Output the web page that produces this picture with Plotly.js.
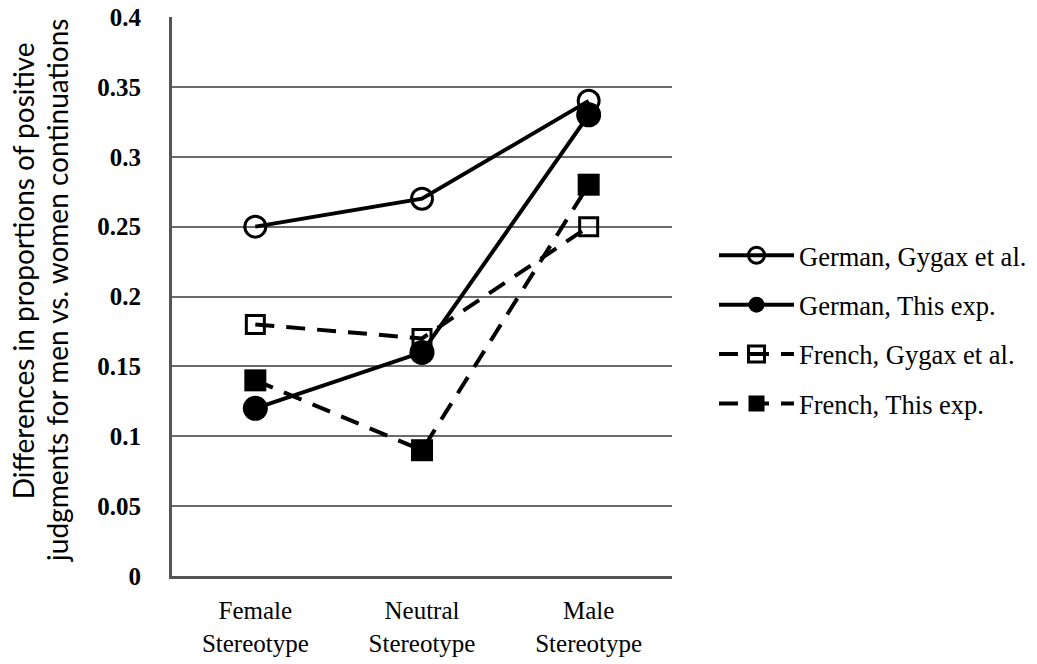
<!DOCTYPE html>
<html>
<head>
<meta charset="utf-8">
<script src="https://cdn.plot.ly/plotly-3.0.1.min.js"></script>
<style>html,body{margin:0;padding:0;background:#fff;}#chart{width:1037px;height:664px;}</style>
</head>
<body>
<div id="chart"></div>
<script>
const categories = ["Female<br>Stereotype", "Neutral<br>Stereotype", "Male<br>Stereotype"];
const germanGygax = [0.25, 0.27, 0.34];
const germanThis = [0.12, 0.16, 0.33];
const frenchGygax = [0.18, 0.17, 0.25];
const frenchThis = [0.14, 0.09, 0.28];
const seriesNames = ["German, Gygax et al.", "German, This exp.", "French, Gygax et al.", "French, This exp."];
const yTicks = [0, 0.05, 0.1, 0.15, 0.2, 0.25, 0.3, 0.35, 0.4];
const yTickText = ["0", "0.05", "0.1", "0.15", "0.2", "0.25", "0.3", "0.35", "0.4"];
const yTitleLines = ["Differences in proportions of positive", "judgments for men vs. women continuations"];

const xIdx = categories.map((c, i) => i);

const traces = [
  {y: germanGygax, name: seriesNames[0], dash: "solid", symbol: "circle-open", size: 21, lw: 3},
  {y: germanThis, name: seriesNames[1], dash: "solid", symbol: "circle", size: 25, lw: 0},
  {y: frenchGygax, name: seriesNames[2], dash: "19px,12px", symbol: "square-open", size: 18, lw: 3},
  {y: frenchThis, name: seriesNames[3], dash: "19px,12px", symbol: "square", size: 22, lw: 0}
].map((t, i) => ({
  type: "scatter",
  mode: "lines+markers",
  x: xIdx,
  y: t.y,
  name: t.name,
  legendgroup: "g" + i,
  line: {color: "#000", width: 4, dash: t.dash},
  marker: {symbol: t.symbol, size: t.size, color: "#000", line: {color: "#000", width: t.lw}},
  cliponaxis: false
}));

const titleFont = {family: "Lato, sans-serif", size: 28, color: "#000"};

const layout = {
  width: 1037,
  height: 664,
  margin: {l: 172, r: 365, t: 17, b: 88, autoexpand: false},
  paper_bgcolor: "#fff",
  plot_bgcolor: "#fff",
  showlegend: true,
  legend: {
    x: 1.084, xanchor: "left",
    y: 0.441, yanchor: "middle",
    itemwidth: 75,
    font: {family: "Liberation Serif, Times New Roman, serif", size: 26.5, color: "#000"},
    tracegroupgap: 12,
    bgcolor: "rgba(0,0,0,0)"
  },
  xaxis: {
    range: [-0.5, 2.5],
    tickmode: "array",
    tickvals: xIdx,
    ticktext: categories,
    showgrid: false,
    zeroline: false,
    showline: true,
    linecolor: "#555",
    linewidth: 3,
    ticks: "",
    tickfont: {family: "Liberation Serif, serif", size: 25, color: "#000"},
    ticklabelstandoff: 10
  },
  yaxis: {
    range: [0, 0.4],
    tickmode: "array",
    tickvals: yTicks,
    ticktext: yTickText,
    showgrid: true,
    gridcolor: "#6a6a6a",
    gridwidth: 2,
    zeroline: false,
    showline: true,
    linecolor: "#555",
    linewidth: 3,
    ticks: "",
    ticklabelstandoff: 23,
    tickfont: {family: "Liberation Serif, serif", size: 25, color: "#000", weight: "bold"}
  },
  annotations: [
    {text: yTitleLines[0], xref: "paper", yref: "paper", x: -0.298, y: 0.545,
     xanchor: "center", yanchor: "middle", textangle: -90, showarrow: false, font: titleFont},
    {text: yTitleLines[1], xref: "paper", yref: "paper", x: -0.23, y: 0.51,
     xanchor: "center", yanchor: "middle", textangle: -90, showarrow: false, font: titleFont}
  ]
};

Plotly.newPlot("chart", traces, layout, {displayModeBar: false, responsive: false});
</script>
</body>
</html>
